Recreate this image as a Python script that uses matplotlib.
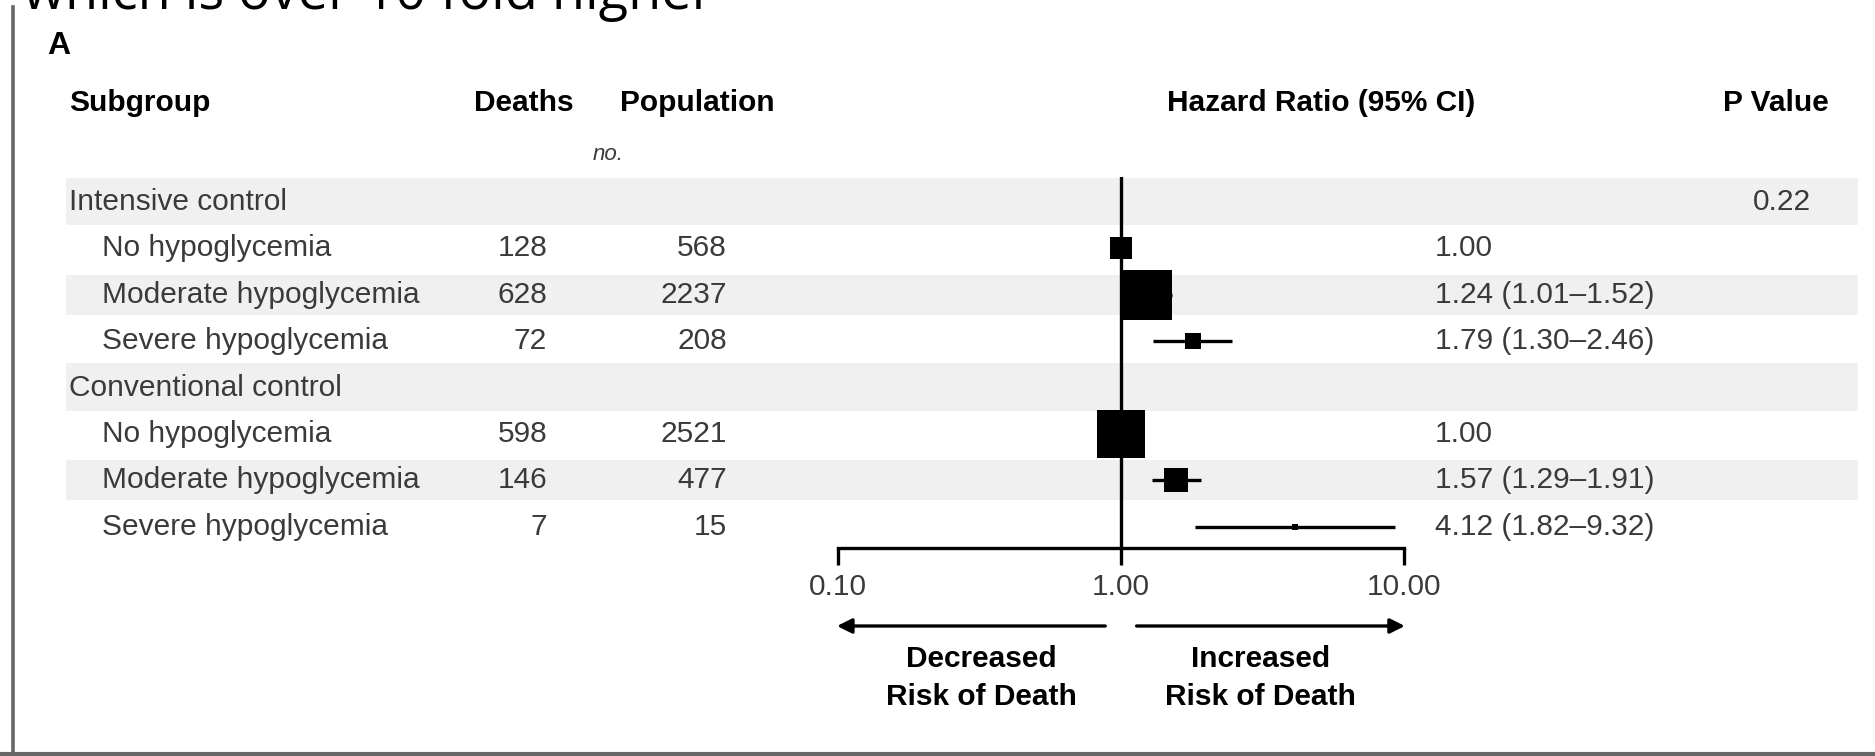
import numpy as np
import matplotlib
matplotlib.use("Agg")
import matplotlib.pyplot as plt
from matplotlib.lines import Line2D

plt.rcParams['font.family'] = ['Liberation Sans', 'DejaVu Sans']

# data
groups = ["Intensive control", "Conventional control"]
subgroups = ["No hypoglycemia", "Moderate hypoglycemia", "Severe hypoglycemia"]
deaths = [[128, 628, 72], [598, 146, 7]]
population = [[568, 2237, 208], [2521, 477, 15]]
hr = [[1.00, 1.24, 1.79], [1.00, 1.57, 4.12]]
ci_low = [[None, 1.01, 1.30], [None, 1.29, 1.82]]
ci_high = [[None, 1.52, 2.46], [None, 1.91, 9.32]]
p_values = ["0.22", ""]
axis_ticks = [0.1, 1, 10]
axis_labels = ["0.10", "1.00", "10.00"]

W, H = 1875, 756
fig = plt.figure(figsize=(W / 100, H / 100), dpi=100)

# row units: pixel y = Y0 + DY * row
Y0, DY = 202, 46.4
def row_of(py):
    return (py - Y0) / DY

ax = fig.add_axes([0, 0, 1, 1])
ax.set_xlim(0, W)
ax.set_ylim(row_of(H), row_of(0))
ax.axis("off")

body = "#3a3a3a"
fs = 21.5

# frame of the screenshot
fig.add_artist(Line2D([13 / W, 13 / W], [0, 1 - 7 / H], transform=fig.transFigure, color="#666666", lw=2.6))
fig.add_artist(Line2D([0, 1], [2 / H, 2 / H], transform=fig.transFigure, color="#666666", lw=3))

ax.text(23, row_of(9), "which is over 10 fold higher", fontsize=39, family=["Open Sans", "DejaVu Sans"],
        va="baseline", ha="left", color="black")
ax.text(47, row_of(46), "A", fontsize=23, fontweight="bold", va="center", ha="left")

hy = row_of(103)
ax.text(69, hy, "Subgroup", fontsize=fs, fontweight="bold", va="center")
ax.text(474, hy, "Deaths", fontsize=fs, fontweight="bold", va="center")
ax.text(620, hy, "Population", fontsize=fs, fontweight="bold", va="center")
ax.text(1167, hy, "Hazard Ratio (95% CI)", fontsize=fs, fontweight="bold", va="center")
ax.text(1723, hy, "P Value", fontsize=fs, fontweight="bold", va="center")
ax.text(608, row_of(155), "no.", fontsize=16, style="italic", va="center", ha="center", color=body)

# forest axes on log scale
fx0, fx1, fy0, fy1 = 838, 1404, 177, 548
ax2 = fig.add_axes([fx0 / W, 1 - fy1 / H, (fx1 - fx0) / W, (fy1 - fy0) / H])
ax2.set_facecolor("none")
ax2.set_xscale("log")
ax2.set_xlim(axis_ticks[0], axis_ticks[-1])
ax2.set_ylim(row_of(fy1), row_of(fy0))

r = 0
for g in range(len(groups)):
    # group header row
    ax.axhspan(r - 0.52, r + 0.5, xmin=66 / W, xmax=1858 / W, color="#f0f0f0", lw=0, zorder=0)
    ax.text(69, r, groups[g], fontsize=fs, va="center", color=body)
    ax.text(1782, r, p_values[g], fontsize=fs, va="center", ha="center", color=body)
    r += 1
    for s in range(len(subgroups)):
        if s == 1:
            ax.axhspan(r - 0.43, r + 0.43, xmin=66 / W, xmax=1858 / W, color="#f0f0f0", lw=0, zorder=0)
        ax.text(102, r, subgroups[s], fontsize=fs, va="center", color=body)
        ax.text(547, r, str(deaths[g][s]), fontsize=fs, va="center", ha="right", color=body)
        ax.text(727, r, str(population[g][s]), fontsize=fs, va="center", ha="right", color=body)
        if ci_low[g][s] is None:
            label = "%.2f" % hr[g][s]
        else:
            label = "%.2f (%.2f\u2013%.2f)" % (hr[g][s], ci_low[g][s], ci_high[g][s])
            ax2.plot([ci_low[g][s], ci_high[g][s]], [r, r], color="black", lw=2.4, solid_capstyle="butt")
        ax.text(1435, r, label, fontsize=fs, va="center", color=body)
        side = 2.0 * np.sqrt(deaths[g][s]) * 0.72
        ax2.plot(hr[g][s], r, marker="s", ms=side, color="black", mew=0, zorder=3)
        r += 1

ax2.axvline(1, color="black", lw=2.4, zorder=2)

for sp in ["top", "left", "right"]:
    ax2.spines[sp].set_visible(False)
ax2.spines["bottom"].set_linewidth(2.4)
ax2.set_yticks([])
ax2.set_xticks(axis_ticks)
ax2.set_xticklabels(axis_labels)
ax2.xaxis.set_minor_locator(matplotlib.ticker.NullLocator())
ax2.tick_params(axis="x", direction="out", length=12, width=2.4, pad=6, labelsize=fs, labelcolor=body)

# direction arrows and captions
ay = row_of(626)
ax2.annotate("", xy=(0.097, ay), xytext=(0.90, ay), annotation_clip=False,
             arrowprops=dict(arrowstyle="-|>", lw=2.4, color="black", mutation_scale=22))
ax2.annotate("", xy=(10.3, ay), xytext=(1.11, ay), annotation_clip=False,
             arrowprops=dict(arrowstyle="-|>", lw=2.4, color="black", mutation_scale=22))
ty = row_of(678)
ax2.text(0.32, ty, "Decreased\nRisk of Death", fontsize=fs, fontweight="bold", ha="center", va="center",
         linespacing=1.42, clip_on=False)
ax2.text(3.12, ty, "Increased\nRisk of Death", fontsize=fs, fontweight="bold", ha="center", va="center",
         linespacing=1.42, clip_on=False)

fig.savefig("out.png", dpi=100)
